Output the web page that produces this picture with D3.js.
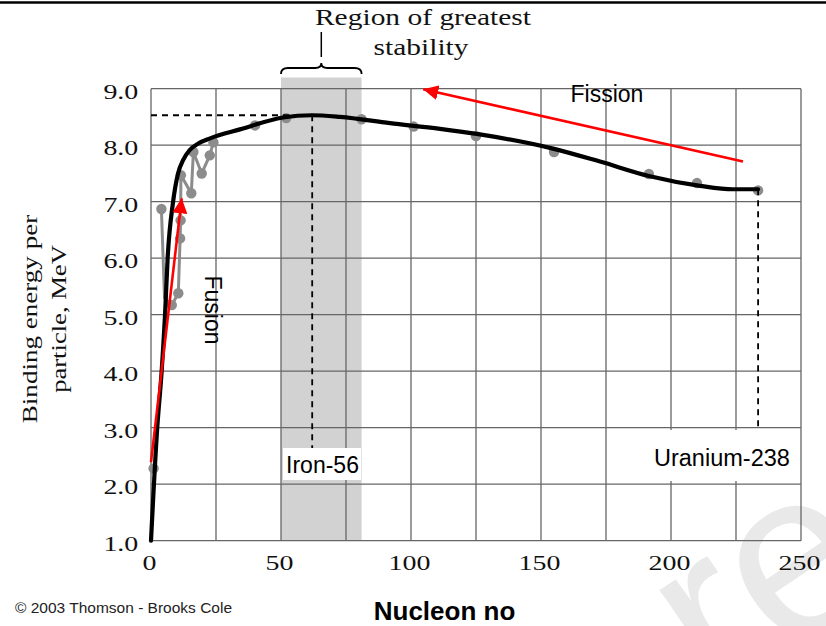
<!DOCTYPE html>
<html>
<head>
<meta charset="utf-8">
<script src="https://cdn.jsdelivr.net/npm/d3@7"></script>
<style>
  body { margin: 0; background: #fff; }
  svg { display: block; }
</style>
</head>
<body>
<script>
// values
const xTicks = [0, 50, 100, 150, 200, 250];
const yTicks = [1, 2, 3, 4, 5, 6, 7, 8, 9];

// measured nuclei (gray dots)
const pointA  = [1, 4, 8, 10.5, 11.2, 11.4, 11.5, 15.5, 16.3, 19.5, 22.6, 24, 40, 52, 81, 101, 125, 155, 191.5, 210, 233.5];
const pointBE = [2.28, 6.87, 5.17, 5.38, 6.35, 6.67, 7.47, 7.15, 7.88, 7.5, 7.82, 8.05, 8.35, 8.48, 8.46, 8.33, 8.16, 7.88, 7.49, 7.33, 7.2];

// gray zigzag joining the light nuclei
const zigA  = [4, 5.2, 8, 10.5, 11.2, 11.4, 11.5, 15.5, 16.3, 19.5, 22.6, 24];
const zigBE = [6.87, 5.3, 5.17, 5.38, 6.35, 6.67, 7.47, 7.15, 7.88, 7.5, 7.82, 8.05];

// smooth black trend curve
const curveA  = [0, 2.4, 4.1, 5.4, 6.4, 8.5, 10.4, 12.4, 14.8, 18.2, 22.7, 34.2, 50.8, 61.8, 72.7, 91.9, 111.2, 125.3, 154.6, 172.7, 191.9, 211.2, 223.8, 233.5];
const curveBE = [1.0, 3.0, 4.0, 5.0, 6.0, 7.0, 7.5, 7.74, 7.91, 8.03, 8.12, 8.28, 8.49, 8.53, 8.5, 8.39, 8.29, 8.2, 7.94, 7.71, 7.45, 7.28, 7.22, 7.22];

const stableRange = [50, 81];
const iron = {a: 62, be: 8.53, label: 'Iron-56', bottom: 2.6};
const uranium = {a: 233.5, be: 7.22, label: 'Uranium-238', bottom: 2.7};
const fusionArrow = {from: [0, 2.39], to: [11.8, 7.06]};
const fissionArrow = {from: [227.7, 7.71], to: [104.7, 8.99]};

const W = 826, H = 626;
const svg = d3.select('body').append('svg').attr('width', W).attr('height', H);

const x = d3.scaleLinear().domain([0, 250]).range([151, 801]);
const y = d3.scaleLinear().domain([1, 9]).range([540.7, 88.7]);

const serif = '"Liberation Serif", "Times New Roman", serif';
const sans = '"Liberation Sans", Arial, sans-serif';

// faint watermark in the corner (cut by the frame, as in the original)
svg.append('text')
    .attr('transform', 'translate(716,702) rotate(-34)')
    .attr('font-family', sans)
    .attr('font-size', 235)
    .attr('fill', '#e9e9e9')
    .text('re');

// top rule
svg.append('line')
    .attr('x1', 0).attr('x2', W).attr('y1', 2.5).attr('y2', 2.5)
    .attr('stroke', '#000').attr('stroke-width', 2.5);

// shaded region of greatest stability
svg.append('rect')
    .attr('x', x(stableRange[0])).attr('y', 77.5)
    .attr('width', x(stableRange[1]) - x(stableRange[0]))
    .attr('height', y(1) - 77.5)
    .attr('fill', '#d2d2d2');

// grid
const grid = svg.append('g').attr('stroke', '#666').attr('stroke-width', 1.3);
grid.selectAll('.vx').data(d3.range(0, 251, 25)).enter().append('line')
    .attr('x1', (d) => x(d)).attr('x2', (d) => x(d))
    .attr('y1', y(1)).attr('y2', y(9));
grid.selectAll('.hy').data(yTicks).enter().append('line')
    .attr('x1', x(0)).attr('x2', x(250))
    .attr('y1', (d) => y(d)).attr('y2', (d) => y(d));

// axes (labels only)
const stretch = 1.27;
const yAxis = svg.append('g').attr('transform', `translate(${x(0)},0)`)
    .call(d3.axisLeft(y).tickValues(yTicks).tickFormat(d3.format('.1f')).tickSize(0));
yAxis.select('.domain').remove();
yAxis.selectAll('text')
    .attr('font-family', serif).attr('font-size', 22).attr('fill', '#111')
    .attr('x', -10).attr('dy', '0.44em')
    .attr('transform', `scale(${stretch},1)`);

const xAxis = svg.append('g').attr('transform', `translate(0,${y(1)})`)
    .call(d3.axisBottom(x).tickValues(xTicks).tickFormat(d3.format('d')).tickSize(0));
xAxis.select('.domain').remove();
xAxis.selectAll('.tick').each(function() {
    const t = d3.select(this);
    const tx = parseFloat(t.attr('transform').replace('translate(', '').split(',')[0]);
    t.attr('transform', `translate(${tx - 2},0)`);
});
xAxis.selectAll('text')
    .attr('font-family', serif).attr('font-size', 22).attr('fill', '#111')
    .attr('y', 29.5).attr('dy', 0)
    .attr('transform', `scale(${stretch},1)`);

// gray measured data
svg.append('path')
    .datum(zigA.map((a, i) => [a, zigBE[i]]))
    .attr('fill', 'none').attr('stroke', '#8c8c8c').attr('stroke-width', 3)
    .attr('d', d3.line().x((d) => x(d[0])).y((d) => y(d[1])));
svg.selectAll('.pt').data(pointA.map((a, i) => [a, pointBE[i]])).enter().append('circle')
    .attr('cx', (d) => x(d[0])).attr('cy', (d) => y(d[1]))
    .attr('r', 5.2).attr('fill', '#8c8c8c');

// black curve
svg.append('path')
    .datum(curveA.map((a, i) => [a, curveBE[i]]))
    .attr('fill', 'none').attr('stroke', '#000').attr('stroke-width', 4.2)
    .attr('stroke-linecap', 'round')
    .attr('d', d3.line().x((d) => x(d[0])).y((d) => y(d[1])).curve(d3.curveMonotoneX));

// dashed guides
const dash = svg.append('g').attr('stroke', '#000').attr('stroke-width', 1.8).attr('stroke-dasharray', '6,5');
dash.append('line').attr('x1', x(0)).attr('x2', x(iron.a)).attr('y1', y(iron.be)).attr('y2', y(iron.be));
dash.append('line').attr('x1', x(iron.a)).attr('x2', x(iron.a)).attr('y1', y(iron.be)).attr('y2', y(iron.bottom));
dash.append('line').attr('x1', x(uranium.a)).attr('x2', x(uranium.a)).attr('y1', y(uranium.be)).attr('y2', y(uranium.bottom));

// label boxes
svg.append('rect').attr('x', 283).attr('y', 448).attr('width', 78).attr('height', 32).attr('fill', '#fff');
svg.append('rect').attr('x', 651).attr('y', 430).attr('width', 146).attr('height', 51).attr('fill', '#fff');
svg.append('text').attr('x', 322.5).attr('y', 473)
    .attr('text-anchor', 'middle').attr('font-family', sans).attr('font-size', 23).attr('fill', '#000')
    .text(iron.label);
svg.append('text').attr('x', 654).attr('y', 466)
    .attr('font-family', sans).attr('font-size', 23.5).attr('fill', '#000')
    .text(uranium.label);

// red arrows
svg.append('defs').append('marker')
    .attr('id', 'head').attr('viewBox', '0 0 10 10')
    .attr('refX', 10).attr('refY', 5)
    .attr('markerUnits', 'userSpaceOnUse')
    .attr('markerWidth', 15).attr('markerHeight', 15)
    .attr('orient', 'auto')
    .append('path').attr('d', 'M0,0 L10,5 L0,10 z').attr('fill', '#ff0000');
[fusionArrow, fissionArrow].forEach((arr) => {
    svg.append('line')
        .attr('x1', x(arr.from[0])).attr('y1', y(arr.from[1]))
        .attr('x2', x(arr.to[0])).attr('y2', y(arr.to[1]))
        .attr('stroke', '#ff0000').attr('stroke-width', 2.6)
        .attr('marker-end', 'url(#head)');
});

svg.append('text').attr('x', 570.5).attr('y', 101.5)
    .attr('font-family', sans).attr('font-size', 23).attr('fill', '#000')
    .text('Fission');
svg.append('text').attr('transform', 'translate(205,310) rotate(90)')
    .attr('text-anchor', 'middle')
    .attr('font-family', sans).attr('font-size', 23).attr('fill', '#000')
    .text('Fusion');

// region of greatest stability heading + brace
svg.append('text').attr('transform', 'translate(423,25) scale(1.31,1)')
    .attr('text-anchor', 'middle').attr('font-family', serif).attr('font-size', 22.5).attr('fill', '#111')
    .text('Region of greatest');
svg.append('text').attr('transform', 'translate(421,55) scale(1.31,1)')
    .attr('text-anchor', 'middle').attr('font-family', serif).attr('font-size', 22.5).attr('fill', '#111')
    .text('stability');
const bL = x(stableRange[0]), bR = x(stableRange[1]), bM = (bL + bR) / 2;
svg.append('path')
    .attr('d', `M${bL},74 Q${bL},68 ${bL + 7},68 L${bM - 6},68 Q${bM},68 ${bM},63 Q${bM},68 ${bM + 6},68 L${bR - 7},68 Q${bR},68 ${bR},74`)
    .attr('fill', 'none').attr('stroke', '#000').attr('stroke-width', 1.8);
svg.append('line').attr('x1', bM).attr('x2', bM).attr('y1', 32).attr('y2', 57)
    .attr('stroke', '#000').attr('stroke-width', 1.5);

// axis titles
const yTitle = svg.append('g').attr('font-family', serif).attr('font-size', 22).attr('fill', '#111');
yTitle.append('text').attr('transform', 'translate(37,319) rotate(-90) scale(1.23,1)')
    .attr('text-anchor', 'middle').text('Binding energy per');
yTitle.append('text').attr('transform', 'translate(66,319) rotate(-90) scale(1.21,1)')
    .attr('text-anchor', 'middle').text('particle, MeV');

svg.append('text').attr('x', 444.5).attr('y', 620)
    .attr('text-anchor', 'middle').attr('font-family', sans).attr('font-weight', 'bold')
    .attr('font-size', 26).attr('fill', '#000')
    .text('Nucleon no');
svg.append('text').attr('x', 15).attr('y', 613)
    .attr('font-family', sans).attr('font-size', 15.5).attr('fill', '#222')
    .text('\u00a9 2003 Thomson - Brooks Cole');
</script>
</body>
</html>
